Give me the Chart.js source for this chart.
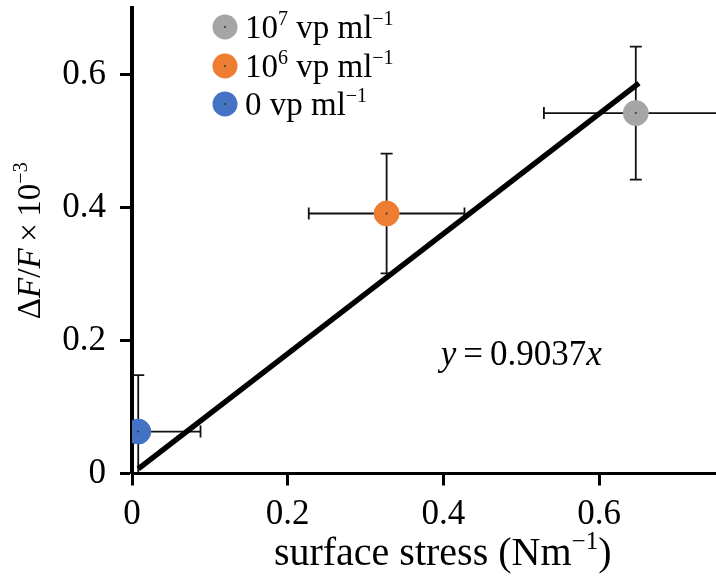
<!DOCTYPE html>
<html>
<head>
<meta charset="utf-8">
<script src="https://cdn.jsdelivr.net/npm/chart.js@4.4.0/dist/chart.umd.min.js"></script>
<style>
  html, body { margin: 0; padding: 0; background: #fff; overflow: hidden; }
  #wrap { width: 716px; height: 576px; position: relative; }
  canvas { display: block; }
</style>
</head>
<body>
<div id="wrap"><canvas id="c"></canvas></div>
<script>
// values
const seriesNames = ['1e7', '1e6', '0'];
const seriesColors = ['#a5a5a5', '#ed7d31', '#4472c4'];
const stressX = [0.647, 0.327, 0.008];
const deltaY = [0.542, 0.391, 0.063];
const stressErr = [0.118, 0.100, 0.080];
const deltaErr = [0.100, 0.090, 0.085];
const fitX = [0.008, 0.651];
const fitY = [0.007, 0.587];
const xTicks = [0, 0.2, 0.4, 0.6];
const yTicks = [0, 0.2, 0.4, 0.6];

const FONT = '"Liberation Serif", "Times New Roman", serif';

// draws text made of pieces: {t, it (italic), sup (superscript)}
function drawRich(ctx, segs, x, y, size, align) {
  const fontOf = s => (s.it ? 'italic ' : '') + (s.sup ? Math.round(size * 0.62) : size) + 'px ' + FONT;
  let w = 0;
  segs.forEach(s => { ctx.font = fontOf(s); s.w = ctx.measureText(s.t).width; w += s.w; });
  let cx = align === 'center' ? x - w / 2 : x;
  ctx.textAlign = 'left';
  ctx.textBaseline = 'alphabetic';
  segs.forEach(s => {
    ctx.font = fontOf(s);
    ctx.fillText(s.t, cx, s.sup ? y - size * 0.4 : y);
    cx += s.w;
  });
}

const legendText = [
  [{t: '10'}, {t: '7', sup: true}, {t: ' vp ml'}, {t: '\u22121', sup: true}],
  [{t: '10'}, {t: '6', sup: true}, {t: ' vp ml'}, {t: '\u22121', sup: true}],
  [{t: '0 vp ml'}, {t: '\u22121', sup: true}]
];

const errorBars = {
  id: 'errorBars',
  beforeDatasetsDraw(chart) {
    const {ctx, chartArea: a, scales: {x, y}} = chart;
    ctx.save();
    ctx.beginPath();
    ctx.rect(a.left, a.top, a.right - a.left, a.bottom - a.top);
    ctx.clip();
    ctx.strokeStyle = '#111';
    ctx.lineWidth = 1.8;
    const cap = 6;
    stressX.forEach((v, i) => {
      const px = x.getPixelForValue(v), py = y.getPixelForValue(deltaY[i]);
      const x0 = x.getPixelForValue(v - stressErr[i]), x1 = x.getPixelForValue(v + stressErr[i]);
      const y0 = y.getPixelForValue(deltaY[i] - deltaErr[i]), y1 = y.getPixelForValue(deltaY[i] + deltaErr[i]);
      ctx.beginPath();
      ctx.moveTo(x0, py); ctx.lineTo(x1, py);
      ctx.moveTo(x0, py - cap); ctx.lineTo(x0, py + cap);
      ctx.moveTo(x1, py - cap); ctx.lineTo(x1, py + cap);
      ctx.moveTo(px, y0); ctx.lineTo(px, y1);
      ctx.moveTo(px - cap, y0); ctx.lineTo(px + cap, y0);
      ctx.moveTo(px - cap, y1); ctx.lineTo(px + cap, y1);
      ctx.stroke();
    });
    ctx.restore();
  },
  afterDatasetsDraw(chart) {
    const {ctx, scales: {x, y}} = chart;
    ctx.save();
    ctx.fillStyle = '#333';
    stressX.forEach((v, i) => {
      ctx.beginPath();
      ctx.arc(x.getPixelForValue(v), y.getPixelForValue(deltaY[i]), 1, 0, Math.PI * 2);
      ctx.fill();
    });
    ctx.restore();
  }
};

const extras = {
  id: 'extras',
  afterDraw(chart) {
    const {ctx, chartArea: a, scales: {x, y}} = chart;
    ctx.save();
    ctx.fillStyle = '#000';

    // legend
    const ly = [27, 66, 104];
    legendText.forEach((segs, i) => {
      ctx.beginPath();
      ctx.arc(225, ly[i], 12.5, 0, Math.PI * 2);
      ctx.fillStyle = seriesColors[i];
      ctx.fill();
      ctx.fillStyle = '#333';
      ctx.beginPath();
      ctx.arc(225, ly[i], 1, 0, Math.PI * 2);
      ctx.fill();
      ctx.fillStyle = '#000';
      drawRich(ctx, segs, 245, ly[i] + 11, 33, 'left');
    });

    // fit equation
    drawRich(ctx, [{t: 'y', it: true}, {t: '\u2009=\u20090.9037'}, {t: 'x', it: true}],
      x.getPixelForValue(0.5), y.getPixelForValue(0.163), 35, 'center');

    // x title
    drawRich(ctx, [{t: 'surface stress (Nm'}, {t: '\u22121', sup: true}, {t: ')'}],
      x.getPixelForValue(0.399), 565, 40, 'center');

    // y title
    ctx.translate(29, (a.top + a.bottom) / 2);
    ctx.rotate(-Math.PI / 2);
    drawRich(ctx, [{t: '\u0394'}, {t: 'F', it: true}, {t: '/'}, {t: 'F', it: true},
      {t: '\u2009\u00d7\u200910'}, {t: '\u22123', sup: true}], 0, 11, 33, 'center');
    ctx.restore();
  }
};

const pointSets = seriesNames.map((name, i) => ({
  label: name,
  data: [{x: stressX[i], y: deltaY[i]}],
  backgroundColor: seriesColors[i],
  borderColor: seriesColors[i],
  pointRadius: 12.5,
  pointHoverRadius: 12.5,
  order: 0
}));

new Chart(document.getElementById('c'), {
  type: 'scatter',
  data: {
    datasets: [
      ...pointSets,
      {
        type: 'line',
        label: 'fit',
        data: fitX.map((v, i) => ({x: v, y: fitY[i]})),
        borderColor: '#000',
        borderWidth: 5.5,
        pointRadius: 0,
        fill: false,
        order: 1
      }
    ]
  },
  options: {
    responsive: true,
    maintainAspectRatio: false,
    animation: false,
    layout: { autoPadding: false, padding: { top: 8, right: 0, left: 0, bottom: 0 } },
    plugins: { legend: { display: false }, tooltip: { enabled: false } },
    scales: {
      x: {
        type: 'linear',
        min: 0,
        max: 0.75,
        afterBuildTicks: s => { s.ticks = xTicks.map(v => ({value: v})); },
        afterFit: s => { s.height = 102.5; s.paddingLeft = 0; s.paddingRight = 0; },
        ticks: {
          color: '#000',
          padding: 8,
          maxRotation: 0,
          font: { family: FONT, size: 35 },
          callback: v => v === 0 ? '0' : v.toFixed(1)
        },
        grid: { drawOnChartArea: false, drawTicks: true, tickLength: 12, tickWidth: 3, tickColor: '#000' },
        border: { display: true, color: '#000', width: 3 }
      },
      y: {
        type: 'linear',
        min: 0,
        max: 0.7,
        afterBuildTicks: s => { s.ticks = yTicks.map(v => ({value: v})); },
        afterFit: s => { s.width = 132; s.paddingTop = 0; s.paddingBottom = 0; },
        ticks: {
          color: '#000',
          padding: 14,
          font: { family: FONT, size: 35 },
          callback: v => v === 0 ? '0' : v.toFixed(1)
        },
        grid: { drawOnChartArea: false, drawTicks: true, tickLength: 12, tickWidth: 3, tickColor: '#000' },
        border: { display: true, color: '#000', width: 4 }
      }
    }
  },
  plugins: [errorBars, extras]
});
</script>
</body>
</html>
